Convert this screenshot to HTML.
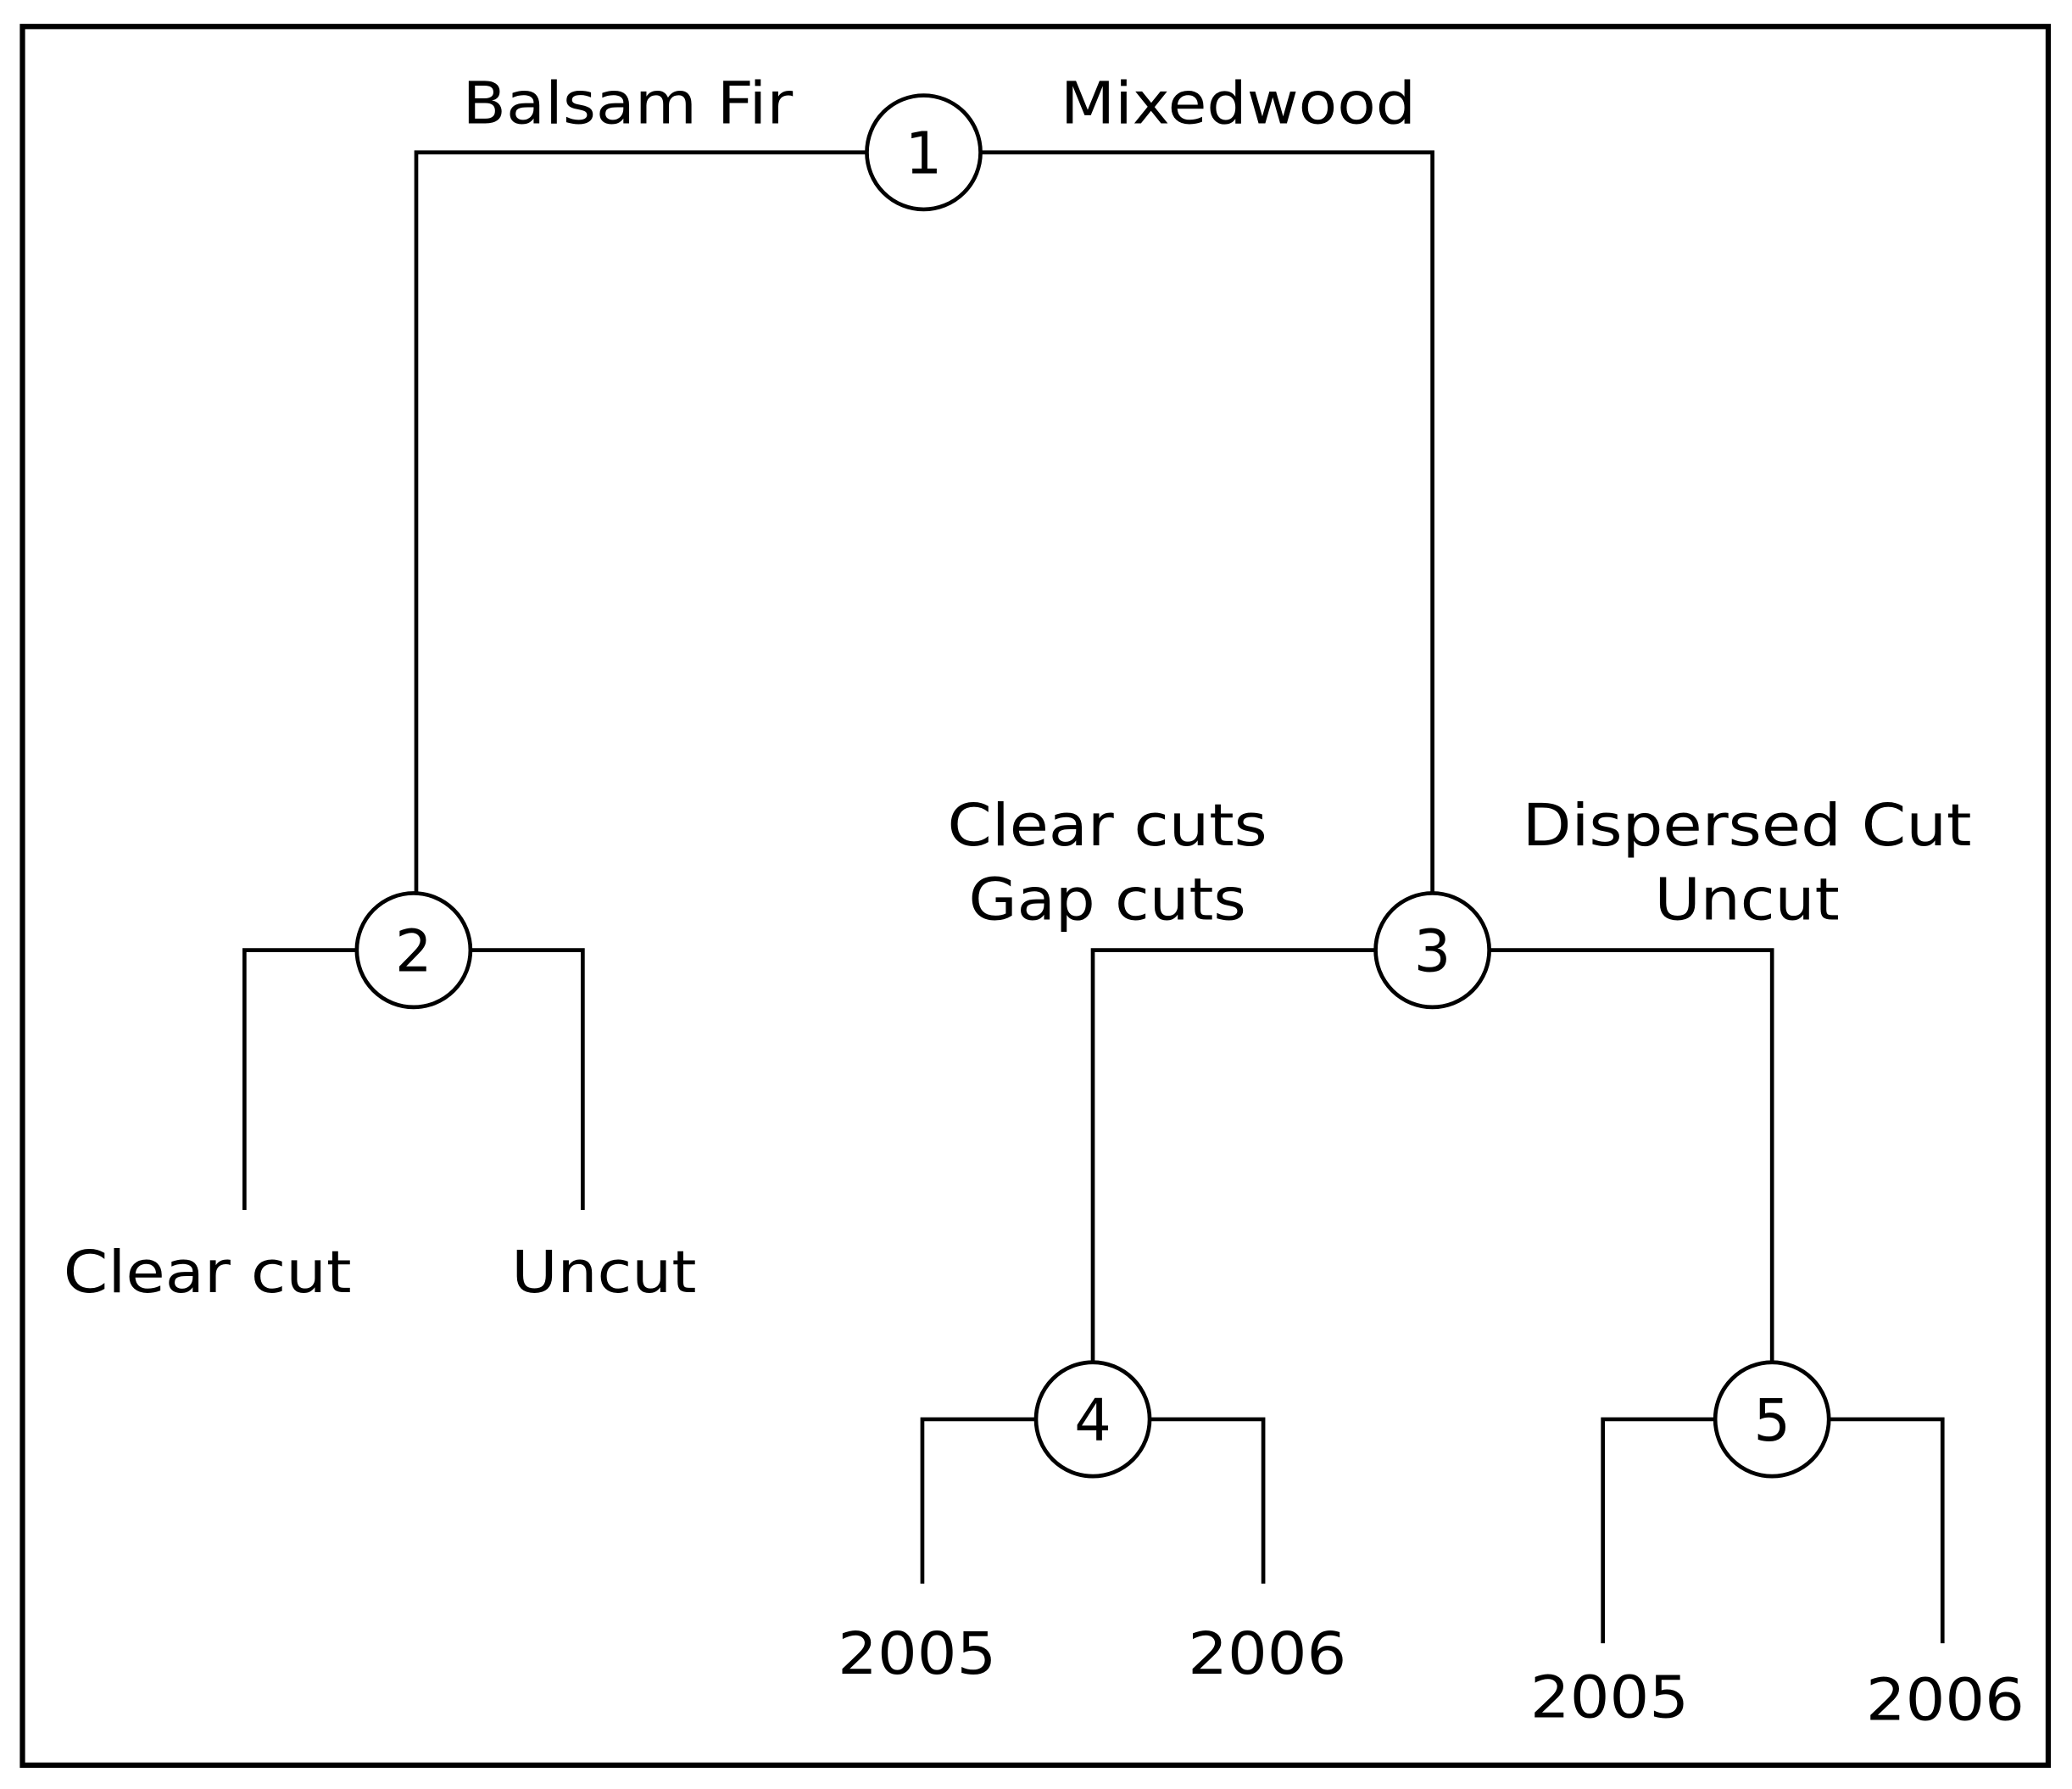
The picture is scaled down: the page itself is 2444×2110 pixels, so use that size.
<!DOCTYPE html>
<html><head><style>html,body{margin:0;padding:0;background:#fff}svg{display:block}</style></head>
<body>
<svg width="2444" height="2110" viewBox="0 0 1568 1350" preserveAspectRatio="none" xmlns="http://www.w3.org/2000/svg">
<rect x="0" y="0" width="1568" height="1350" fill="#fff"/>
<rect x="17" y="20" width="1533" height="1312" fill="none" stroke="#000" stroke-width="4"/>
<g stroke="#000" stroke-width="3" fill="none">
<path d="M315 673 V115 H1084 V673"/>
<path d="M185 913 V717 H441 V913"/>
<path d="M827 1027 V717 H1341 V1027"/>
<path d="M698 1195 V1071 H956 V1195"/>
<path d="M1213 1240 V1071 H1470 V1240"/>
</g>
<g stroke="#000" stroke-width="3" fill="#fff">
<circle cx="699" cy="115" r="43"/>
<circle cx="313" cy="717" r="43"/>
<circle cx="1084" cy="717" r="43"/>
<circle cx="827" cy="1071" r="43"/>
<circle cx="1341" cy="1071" r="43"/>
</g>
<g font-family="DejaVu Sans, Liberation Sans, sans-serif" font-size="44" fill="#000" text-anchor="middle">
<text x="699" y="131">1</text>
<text x="313" y="733">2</text>
<text x="1084" y="733">3</text>
<text x="827" y="1087">4</text>
<text x="1341" y="1087">5</text>
<text x="475" y="93" textLength="250" lengthAdjust="spacingAndGlyphs">Balsam Fir</text>
<text x="937" y="93" textLength="269" lengthAdjust="spacingAndGlyphs">Mixedwood</text>
<text x="838" y="638" textLength="242" lengthAdjust="spacingAndGlyphs">Clear cuts</text>
<text x="838" y="694" textLength="210" lengthAdjust="spacingAndGlyphs">Gap cuts</text>
<text x="1322" y="638" textLength="340" lengthAdjust="spacingAndGlyphs">Dispersed Cut</text>
<text x="1322" y="694" textLength="140" lengthAdjust="spacingAndGlyphs">Uncut</text>
<text x="157" y="975" textLength="218" lengthAdjust="spacingAndGlyphs">Clear cut</text>
<text x="457" y="975" textLength="140" lengthAdjust="spacingAndGlyphs">Uncut</text>
<text x="694" y="1263" textLength="120" lengthAdjust="spacingAndGlyphs">2005</text>
<text x="959" y="1263" textLength="120" lengthAdjust="spacingAndGlyphs">2006</text>
<text x="1218" y="1296" textLength="120" lengthAdjust="spacingAndGlyphs">2005</text>
<text x="1472" y="1298" textLength="120" lengthAdjust="spacingAndGlyphs">2006</text>
</g>
</svg>
</body></html>
